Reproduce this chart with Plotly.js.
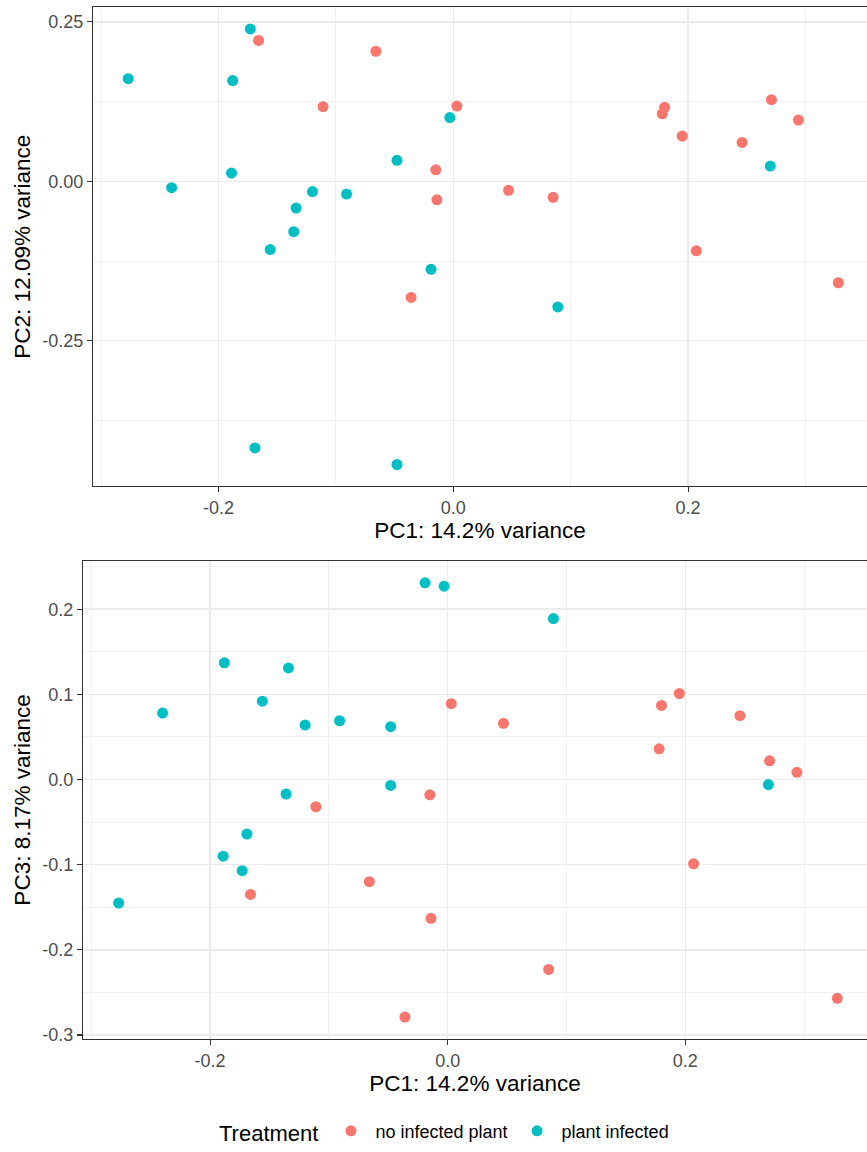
<!DOCTYPE html>
<html>
<head>
<meta charset="utf-8">
<script src="https://cdn.plot.ly/plotly-3.0.1.min.js"></script>
<style>
html, body { margin: 0; padding: 0; overflow: hidden; background: #ffffff; width: 867px; height: 1152px; }
#chart { width: 867px; height: 1152px; }
</style>
</head>
<body>
<div id="chart"></div>
<script>
// ---- Data ----
const groups = ["no infected plant", "plant infected"];
const groupColors = ["#F8766D", "#00BFC4"];

const pc1NoInfected = [-0.166, -0.066, -0.111, 0.003, -0.015, -0.014, 0.047, 0.085, -0.036, 0.180, 0.178, 0.195, 0.207, 0.246, 0.271, 0.294, 0.328];
const pc2NoInfected = [0.221, 0.204, 0.117, 0.118, 0.018, -0.029, -0.014, -0.025, -0.182, 0.116, 0.106, 0.071, -0.109, 0.061, 0.128, 0.096, -0.159];
const pc3NoInfected = [-0.135, -0.120, -0.032, 0.089, -0.018, -0.163, 0.066, -0.223, -0.279, 0.087, 0.036, 0.101, -0.099, 0.075, 0.022, 0.0085, -0.257];

const pc1Infected = [-0.277, -0.173, -0.188, -0.240, -0.189, -0.120, -0.134, -0.136, -0.156, -0.091, -0.048, -0.003, -0.019, 0.089, -0.169, -0.048, 0.270];
const pc2Infected = [0.161, 0.239, 0.158, -0.010, 0.013, -0.016, -0.042, -0.079, -0.107, -0.020, 0.033, 0.100, -0.138, -0.197, -0.418, -0.444, 0.024];
const pc3Infected = [-0.145, -0.107, 0.137, 0.078, -0.090, 0.064, 0.131, -0.017, 0.092, 0.069, 0.062, 0.227, 0.231, 0.189, -0.064, -0.007, -0.006];

const xTitle = "PC1: 14.2% variance";
const y1Title = "PC2: 12.09% variance";
const y2Title = "PC3: 8.17% variance";
const legendTitle = "Treatment";

const xTickVals = [-0.2, 0.0, 0.2];
const xTickText = ["-0.2", "0.0", "0.2"];
const xMinorVals = [-0.3, -0.1, 0.1, 0.3];

const y1TickVals = [-0.25, 0.0, 0.25];
const y1TickText = ["-0.25", "0.00", "0.25"];
const y1MinorVals = [-0.375, -0.125, 0.125];

const y2TickVals = [-0.3, -0.2, -0.1, 0.0, 0.1, 0.2];
const y2TickText = ["-0.3", "-0.2", "-0.1", "0.0", "0.1", "0.2"];
const y2MinorVals = [-0.25, -0.15, -0.05, 0.05, 0.15, 0.25];

// ---- Traces ----
const pc1 = [pc1NoInfected, pc1Infected];
const pc2 = [pc2NoInfected, pc2Infected];
const pc3 = [pc3NoInfected, pc3Infected];

const traces = [];
groups.forEach((g, i) => {
  traces.push({
    type: "scatter", mode: "markers", name: g, legendgroup: g,
    x: pc1[i], y: pc2[i], xaxis: "x", yaxis: "y",
    marker: { color: groupColors[i], size: 11, line: { width: 0 } },
    showlegend: true
  });
});
groups.forEach((g, i) => {
  traces.push({
    type: "scatter", mode: "markers", name: g, legendgroup: g,
    x: pc1[i], y: pc3[i], xaxis: "x2", yaxis: "y2",
    marker: { color: groupColors[i], size: 11, line: { width: 0 } },
    showlegend: false
  });
});

// ---- Layout ----
const W = 867, H = 1152;
const FONT = "Liberation Sans, Arial, Helvetica, sans-serif";
const gridCol = "#EBEBEB";

function xAxis(domain, anchor, range) {
  return {
    domain: domain, anchor: anchor, range: range,
    tickmode: "array", tickvals: xTickVals, ticktext: xTickText,
    ticks: "outside", ticklen: 5, tickwidth: 1.1, tickcolor: "#333333",
    tickfont: { family: FONT, size: 18, color: "#4D4D4D" },
    showgrid: true, gridcolor: gridCol, gridwidth: 1.4,
    minor: { tickmode: "array", tickvals: xMinorVals, showgrid: true, gridcolor: gridCol, gridwidth: 0.7, ticks: "" },
    zeroline: false,
    showline: true, linecolor: "#333333", linewidth: 1.2, mirror: true,
    title: { text: xTitle, font: { family: FONT, size: 22.5, color: "#000000" }, standoff: 4 },
    automargin: false, fixedrange: true
  };
}
function yAxis(domain, anchor, range, vals, text, minorVals, title) {
  return {
    domain: domain, anchor: anchor, range: range,
    tickmode: "array", tickvals: vals, ticktext: text,
    ticks: "outside", ticklen: 5, tickwidth: 1.1, tickcolor: "#333333",
    tickfont: { family: FONT, size: 18, color: "#4D4D4D" },
    showgrid: true, gridcolor: gridCol, gridwidth: 1.4,
    minor: { tickmode: "array", tickvals: minorVals, showgrid: true, gridcolor: gridCol, gridwidth: 0.7, ticks: "" },
    zeroline: false,
    showline: true, linecolor: "#333333", linewidth: 1.2, mirror: false,
    title: { text: title, font: { family: FONT, size: 22.5, color: "#000000" }, standoff: 5 },
    automargin: false, fixedrange: true
  };
}

const layout = {
  width: W, height: H,
  margin: { l: 0, r: 0, t: 0, b: 0, pad: 0 },
  paper_bgcolor: "#ffffff", plot_bgcolor: "#ffffff",
  font: { family: FONT, color: "#000000" },
  xaxis: xAxis([93 / W, 1], "y", [-0.307, 0.3524]),
  yaxis: yAxis([1 - 490 / H, 1 - 7.3 / H], "x", [-0.478, 0.273], y1TickVals, y1TickText, y1MinorVals, y1Title),
  xaxis2: xAxis([83 / W, 1], "y2", [-0.307, 0.3530]),
  yaxis2: yAxis([1 - 1047 / H, 1 - 565.5 / H], "x2", [-0.3045, 0.2565], y2TickVals, y2TickText, y2MinorVals, y2Title),
  showlegend: true,
  legend: {
    orientation: "h",
    x: 217 / W, xanchor: "left",
    y: 1 - 1141 / H, yanchor: "middle",
    title: { text: legendTitle, side: "left", font: { family: FONT, size: 22, color: "#000000" } },
    font: { family: FONT, size: 18, color: "#000000" },
    itemwidth: 39,
    bgcolor: "rgba(0,0,0,0)"
  }
};

Plotly.newPlot("chart", traces, layout, { displayModeBar: false, staticPlot: true });
</script>
</body>
</html>
